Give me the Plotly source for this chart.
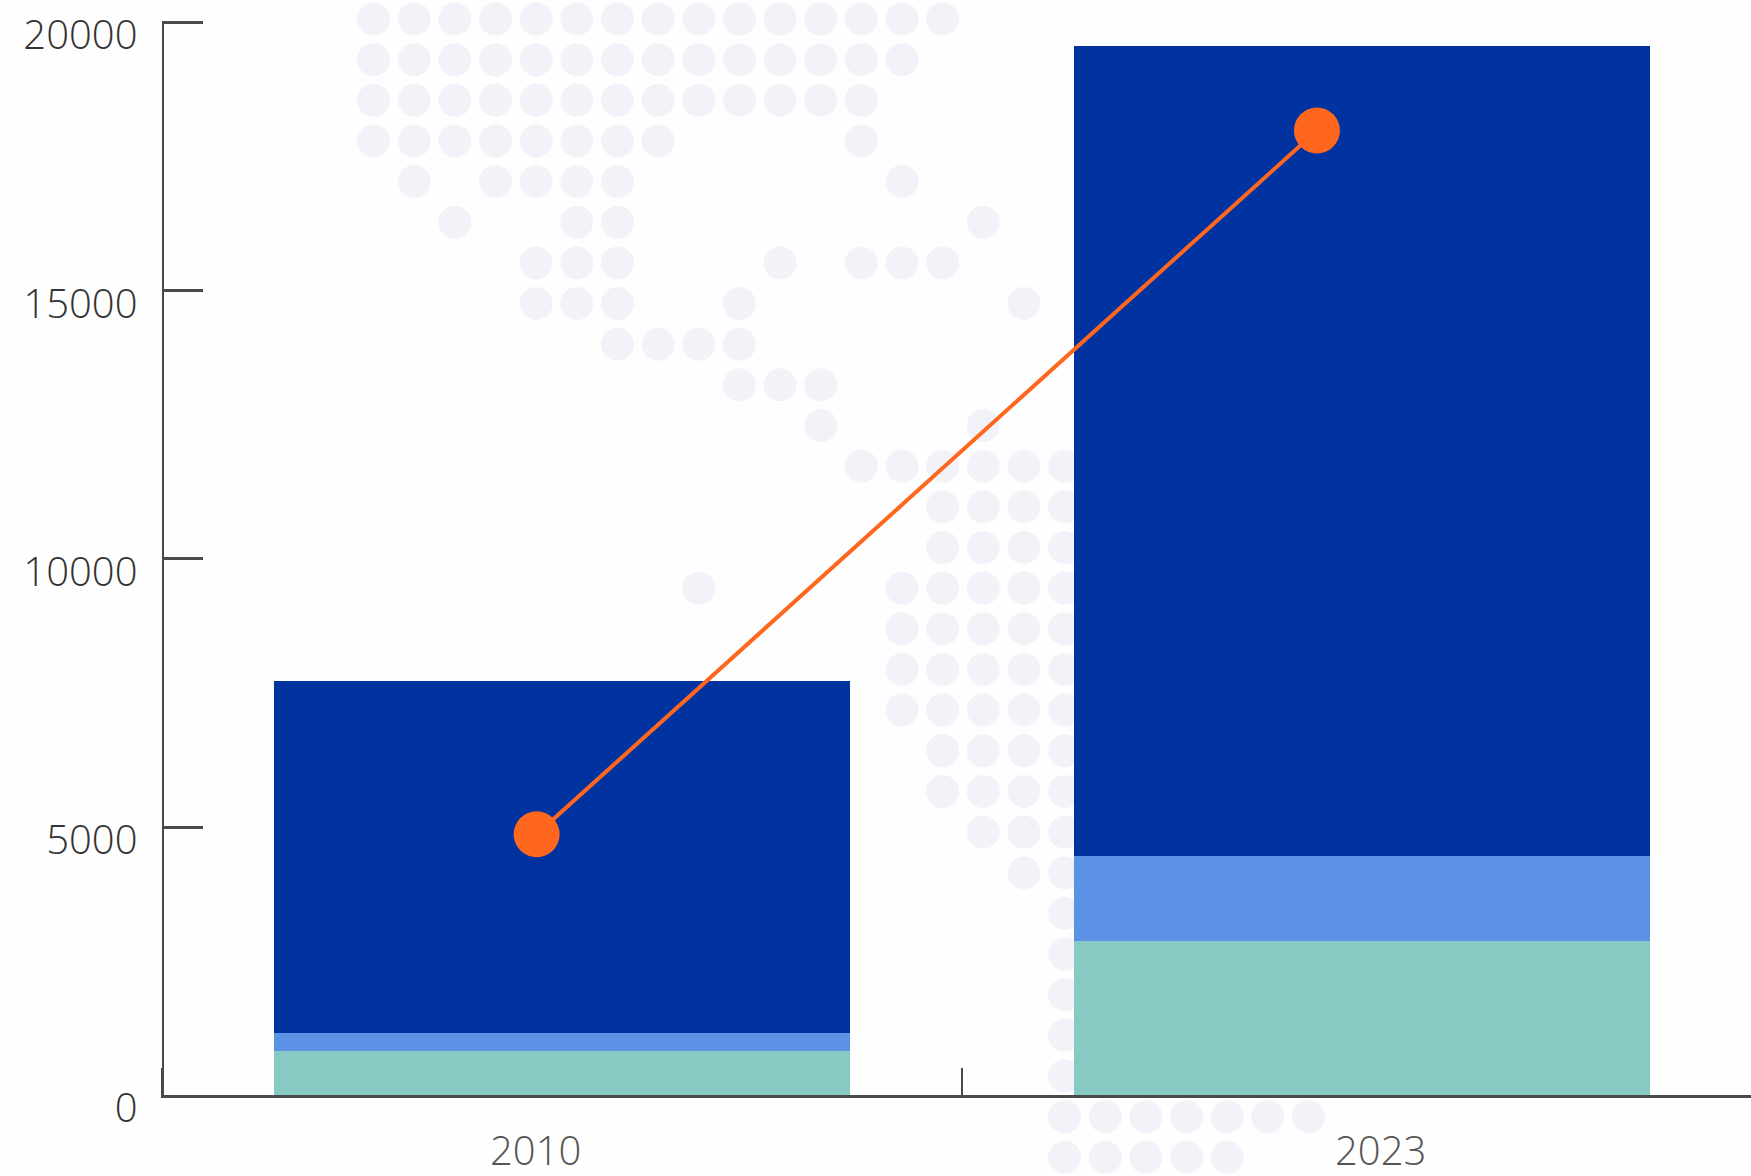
import plotly.graph_objects as go

years = ["2010", "2023"]
bar_positions = [0, 1]
teal_values = [820, 2884]
mid_blue_values = [334, 1582]
dark_blue_values = [6563, 15091]
line_positions = [-0.032, 0.944]
line_values = [4865, 17985]
label_positions = [-0.033, 1.023]
y_ticks = [0, 5000, 10000, 15000, 20000]
x_tick_positions = [-0.5, 0.5]

# decorative dotted map: row index -> occupied column indices
dot_rows = {
    0: list(range(0, 15)), 1: list(range(0, 14)), 2: list(range(0, 13)),
    3: list(range(0, 8)) + [12], 4: [1, 3, 4, 5, 6, 13], 5: [2, 5, 6, 15],
    6: [4, 5, 6, 10, 12, 13, 14], 7: [4, 5, 6, 9, 16], 8: [6, 7, 8, 9],
    9: [9, 10, 11], 10: [11, 15], 11: [12, 13, 14, 15, 16, 17],
    12: [14, 15, 16, 17], 13: [14, 15, 16, 17], 14: [8, 13, 14, 15, 16, 17],
    15: [13, 14, 15, 16, 17], 16: [13, 14, 15, 16, 17], 17: [13, 14, 15, 16, 17],
    18: [14, 15, 16, 17], 19: [14, 15, 16, 17], 20: [15, 16, 17], 21: [16, 17],
    22: [17], 23: [17], 24: [17], 25: [17], 26: [17],
    27: [17, 18, 19, 20, 21, 22, 23], 28: [17, 18, 19, 20, 21],
}

W, H = 1751, 1176
BG = "#fefefe"
AXIS = "#4a4a4a"
FONT = "Open Sans"

dot_x = [c for r, cols in dot_rows.items() for c in cols]
dot_y = [r for r, cols in dot_rows.items() for _ in cols]

fig = go.Figure()
fig.add_trace(go.Scatter(x=dot_x, y=dot_y, mode="markers", xaxis="x", yaxis="y",
                         marker=dict(size=33, color="#f2f3f9"), hoverinfo="skip", showlegend=False))
for name, vals, col in [("Teal", teal_values, "#87cac4"),
                        ("Mid blue", mid_blue_values, "#5b92e5"),
                        ("Dark blue", dark_blue_values, "#0033a0")]:
    fig.add_trace(go.Bar(x=bar_positions, y=vals, width=0.72, name=name, marker=dict(color=col, line_width=0),
                         xaxis="x2", yaxis="y2", showlegend=False))
fig.add_trace(go.Scatter(x=line_positions, y=line_values, mode="lines+markers", xaxis="x2", yaxis="y2",
                         line=dict(color="#ff671f", width=4), marker=dict(size=46, color="#ff671f"),
                         showlegend=False, cliponaxis=False))

annotations = [dict(x=p, y=-0.0505, xref="x2", yref="y2 domain", text=t, showarrow=False,
                    font=dict(family=FONT, size=40, color="#555555", weight=300), xanchor="center", yanchor="middle")
               for p, t in zip(label_positions, years)]

# The plot box starts 1.3 px outside the end ticks so that Plotly keeps those inside ticks.
fig.update_layout(
    width=W, height=H, autosize=False, margin=dict(l=0, r=0, t=0, b=0, pad=0),
    paper_bgcolor=BG, plot_bgcolor="rgba(0,0,0,0)", barmode="stack", showlegend=False,
    annotations=annotations,
    xaxis=dict(domain=[0, 1], range=[-9.19, 33.886], visible=False, automargin=False),
    yaxis=dict(domain=[0, 1], range=[28.46, -0.467], visible=False, automargin=False),
    xaxis2=dict(domain=[161.2 / W, 1], range=[-0.5016, 1.4869], anchor="y2", showgrid=False, zeroline=False,
                automargin=False,
                showline=True, linecolor=AXIS, linewidth=3, tickmode="array", tickvals=x_tick_positions,
                ticktext=["", ""], ticks="inside", ticklen=27, tickwidth=1.6, tickcolor=AXIS),
    yaxis2=dict(domain=[(H - 1095.2) / H, (H - 21.2) / H], range=[0, 20024], anchor="free", position=162.5 / W,
                showgrid=False, automargin=False,
                zeroline=False, showline=True, linecolor=AXIS, linewidth=2, tickmode="array", tickvals=y_ticks,
                ticktext=[str(v) for v in y_ticks], ticks="inside", ticklen=39, tickwidth=3, tickcolor=AXIS,
                tickfont=dict(family=FONT, size=40, color="#333333", weight=300),
                ticklabelshift=13, ticklabelstandoff=16),
)
fig.write_html("out.html", config=dict(displayModeBar=False), post_script="document.body.style.margin='0';")
